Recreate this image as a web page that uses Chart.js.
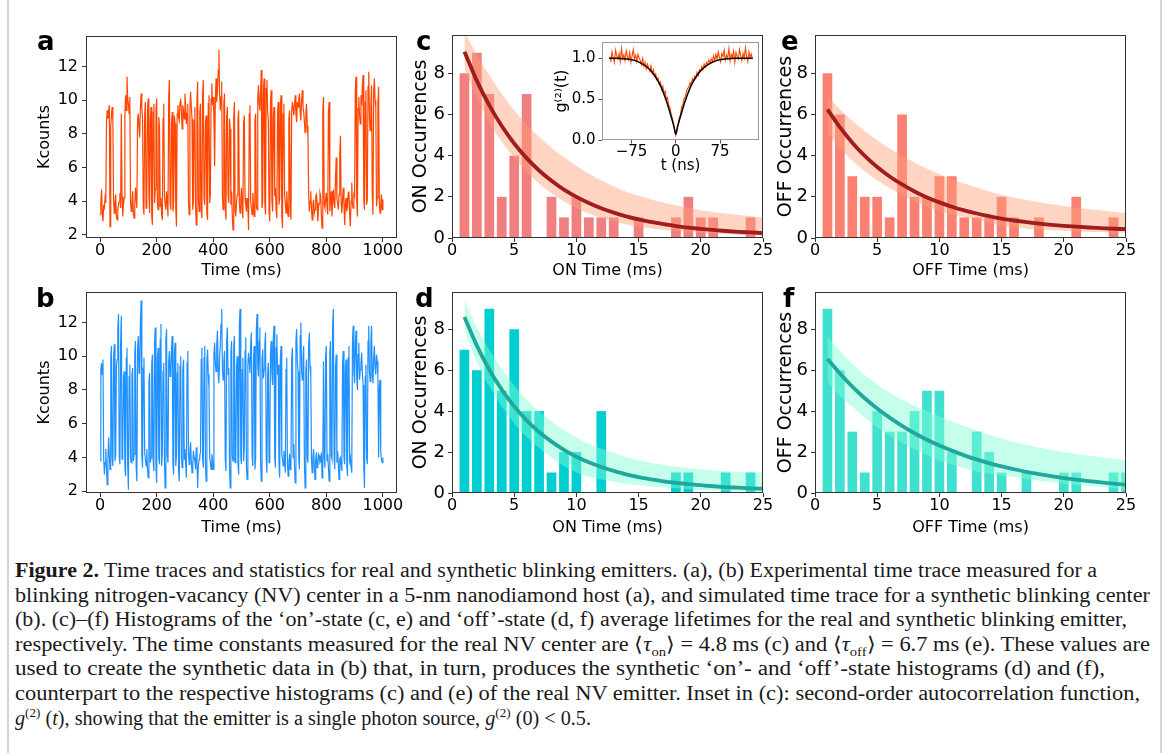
<!DOCTYPE html>
<html><head><meta charset="utf-8">
<script src="https://cdn.jsdelivr.net/npm/chart.js@4.4.1/dist/chart.umd.min.js"></script>
<style>
html,body{margin:0;padding:0;background:#fff;}
#page{position:relative;width:1165px;height:753px;overflow:hidden;background:#fff;}
canvas{position:absolute;}
.lbl{position:absolute;font-family:'DejaVu Sans';font-weight:bold;font-size:26px;line-height:26px;color:#000;}
.cap{position:absolute;left:15px;font-family:'Liberation Serif';font-size:20px;line-height:24px;color:#1a1a1a;white-space:nowrap;transform-origin:0 50%;}
.cap sub,.cap sup{font-size:13px;line-height:0;}
.frame{position:absolute;top:0;height:753px;width:2px;background:#d4d4d4;}
</style></head><body>
<div id="page">
<div class="frame" style="left:7px"></div>
<div class="frame" style="left:1160px"></div>
<canvas id="ca"></canvas><canvas id="cb"></canvas>
<canvas id="cc"></canvas><canvas id="cd"></canvas>
<canvas id="ce"></canvas><canvas id="cf"></canvas>
<canvas id="cin"></canvas>
<div class="lbl" style="left:37px;top:28px">a</div>
<div class="lbl" style="left:36px;top:285px">b</div>
<div class="lbl" style="left:416px;top:28px">c</div>
<div class="lbl" style="left:415px;top:285px">d</div>
<div class="lbl" style="left:781px;top:28px">e</div>
<div class="lbl" style="left:783px;top:285px">f</div>
<div class="cap" id="l1" style="top:558px"><b>Figure 2.</b> Time traces and statistics for real and synthetic blinking emitters. (a), (b) Experimental time trace measured for a</div>
<div class="cap" id="l2" style="top:582.6px">blinking nitrogen-vacancy (NV) center in a 5-nm nanodiamond host (a), and simulated time trace for a synthetic blinking center</div>
<div class="cap" id="l3" style="top:607.2px">(b). (c)–(f) Histograms of the ‘on’-state (c, e) and ‘off’-state (d, f) average lifetimes for the real and synthetic blinking emitter,</div>
<div class="cap" id="l4" style="top:631.8px">respectively. The time constants measured for the real NV center are ⟨<i>τ</i><sub>on</sub>⟩ = 4.8 ms (c) and ⟨<i>τ</i><sub>off</sub>⟩ = 6.7 ms (e). These values are</div>
<div class="cap" id="l5" style="top:656.4px">used to create the synthetic data in (b) that, in turn, produces the synthetic ‘on’- and ‘off’-state histograms (d) and (f),</div>
<div class="cap" id="l6" style="top:681px">counterpart to the respective histograms (c) and (e) of the real NV emitter. Inset in (c): second-order autocorrelation function,</div>
<div class="cap" id="l7" style="top:705.6px"><i>g</i><sup>(2)</sup> (<i>t</i>), showing that the emitter is a single photon source, <i>g</i><sup>(2)</sup> (0) &lt; 0.5.</div>
</div>
<script>
// ---------------- DATA ----------------
const traceSpanMs = 1000; // samples evenly spaced over 0..1000 ms
const traceA = [3.2,3.9,4.7,3.4,2.8,3.7,3.6,4.2,3.9,8.7,9.4,8.9,9.3,9.7,2.5,8.4,9.1,9.6,8.8,4.1,3.3,3.9,4.4,3.1,2.9,3.5,3.8,4.0,4.5,3.6,9.2,4.3,3.1,3.8,4.2,9.0,10.3,9.4,11.4,10.1,9.8,9.2,10.2,4.0,3.4,3.9,4.6,3.3,3.0,3.8,4.8,4.1,3.6,8.9,9.2,8.4,7.8,9.6,10.4,9.5,8.9,3.7,3.2,9.1,9.9,3.6,4.1,9.4,10.1,4.4,3.3,8.8,9.6,3.1,2.6,9.3,9.8,3.9,4.7,9.5,10.1,4.0,3.5,9.0,8.4,3.7,4.2,3.2,2.9,8.9,9.8,4.3,3.8,3.5,4.6,4.0,3.1,10.2,11.2,3.9,3.5,8.7,9.3,3.4,4.0,9.1,8.6,3.6,2.5,9.2,9.7,9.0,8.8,9.9,10.1,9.3,8.3,9.7,9.4,8.9,10.4,9.6,8.6,9.2,9.8,4.0,3.2,9.4,10.5,9.6,8.9,3.5,4.0,8.8,9.6,3.8,2.6,10.0,11.1,4.1,3.4,9.3,9.8,3.5,3.0,10.4,11.2,4.2,3.8,8.6,9.1,3.3,2.9,9.8,10.3,3.9,4.5,10.1,11.0,9.7,10.2,8.9,6.1,10.0,11.3,9.9,10.6,11.8,13.0,10.4,9.4,10.2,11.1,4.3,3.5,9.8,10.4,3.6,2.9,9.0,9.6,4.4,3.9,8.9,8.3,3.8,4.6,3.1,2.3,8.9,9.9,3.5,3.1,4.0,4.4,8.8,9.4,3.9,3.3,4.1,4.8,3.6,3.0,8.6,9.1,4.2,3.8,3.4,4.2,3.7,2.3,9.2,9.7,4.0,3.6,3.2,4.5,3.9,3.1,8.8,9.2,3.7,3.5,10.1,10.9,9.8,9.4,10.6,11.8,3.6,4.0,10.5,11.3,3.9,3.2,10.7,11.2,9.3,8.8,3.4,2.8,9.9,10.6,4.1,3.4,9.0,9.6,4.3,4.8,3.5,3.0,9.3,9.9,3.8,4.2,9.7,10.3,3.1,2.4,9.2,9.8,4.4,3.9,3.3,4.6,3.8,3.1,8.9,9.4,3.6,2.9,9.3,9.9,9.5,9.1,9.8,10.3,9.2,8.7,9.9,9.6,10.1,10.4,9.3,8.8,10.0,10.6,9.6,9.3,8.7,8.1,9.2,9.8,8.5,7.9,4.4,3.4,4.0,4.6,3.5,2.9,3.8,4.1,3.3,3.5,4.3,4.4,3.9,2.8,3.6,3.9,4.5,4.3,3.2,2.4,9.4,10.2,3.8,3.6,4.1,4.5,3.7,3.2,9.3,9.9,3.4,4.0,4.6,3.1,3.9,4.7,4.0,3.6,5.4,6.6,4.1,3.9,3.5,4.4,6.8,7.9,3.9,3.3,4.2,4.8,3.7,2.6,3.9,4.2,3.4,3.7,4.5,4.6,3.2,2.5,4.0,5.1,3.8,3.6,4.4,4.3,10.5,11.4,4.0,3.1,9.5,10.2,9.1,8.6,10.3,9.7,10.8,11.5,4.1,3.5,9.9,10.6,3.8,4.1,10.8,11.7,9.0,8.2,9.6,10.9,4.4,3.2,10.6,11.3,10.0,9.6,3.7,4.2,9.8,10.8,3.9,3.3,3.8,4.4,3.5,4.1];
const traceB = [3.8,9.2,9.6,8.9,9.8,4.0,3.0,3.7,4.5,3.4,2.4,3.9,5.2,4.1,3.3,9.8,10.6,4.0,3.5,9.9,10.7,3.8,4.1,9.4,9.8,11.6,12.5,4.0,3.6,10.8,12.4,3.9,4.4,8.7,9.1,3.5,2.9,9.9,10.5,3.6,2.1,8.8,9.5,4.0,3.7,8.9,9.3,3.8,4.2,10.2,10.9,3.4,2.6,10.5,11.2,9.0,9.5,12.1,13.3,4.1,3.4,9.3,9.9,4.3,3.9,3.5,4.5,3.3,2.8,8.5,9.0,3.7,4.0,9.5,10.1,3.9,3.2,10.8,11.7,3.4,2.5,9.8,10.5,4.0,3.6,11.0,11.9,3.5,4.3,9.1,9.6,3.8,2.2,10.9,11.6,4.2,3.7,9.7,10.3,8.8,9.2,10.5,11.2,3.6,3.0,10.1,10.8,3.5,4.1,9.0,9.6,3.2,2.6,9.4,10.0,4.0,3.4,9.2,9.8,3.9,4.5,3.6,2.8,9.6,10.3,4.2,3.6,4.3,4.9,3.8,3.1,3.6,4.4,4.0,3.8,3.3,4.6,3.9,2.2,3.5,3.9,4.1,4.3,9.8,10.5,4.0,3.4,9.9,10.6,3.6,2.6,9.7,10.4,8.9,8.1,4.0,3.7,3.3,4.2,3.8,3.3,10.1,10.8,9.6,9.1,10.7,11.5,9.0,8.4,9.9,10.7,11.9,12.8,9.3,8.6,9.7,10.3,3.9,3.2,10.9,11.7,8.9,9.3,3.6,2.2,10.2,10.9,4.1,3.8,10.5,11.2,3.7,4.4,9.4,10.0,3.6,3.0,11.9,12.8,4.0,3.6,9.2,9.9,3.8,4.6,10.3,11.1,3.4,2.7,9.5,10.2,9.6,9.0,10.7,11.4,4.1,3.5,9.9,10.6,3.3,4.0,11.6,12.5,9.4,8.8,10.9,11.7,3.8,2.6,9.8,10.4,8.7,9.2,10.6,11.4,3.9,3.1,9.0,9.6,3.7,4.7,10.1,10.9,9.0,8.3,11.0,11.8,4.0,3.4,10.5,11.3,8.9,9.5,3.6,2.8,9.9,10.6,4.2,3.9,3.5,4.4,3.8,3.1,9.2,9.9,3.6,2.9,3.7,4.2,3.3,3.6,9.8,10.5,4.0,4.8,3.4,2.5,10.9,11.6,9.7,9.1,3.9,3.3,11.2,12.0,9.2,8.6,9.9,10.6,3.7,2.2,9.1,9.8,4.0,3.7,10.6,11.4,9.4,8.8,3.9,3.1,4.0,4.5,3.6,2.7,3.9,4.3,3.4,3.5,4.2,4.1,3.7,3.8,4.3,2.8,3.5,9.7,4.0,3.4,9.9,10.6,3.8,4.2,3.4,2.6,10.2,10.9,4.1,3.9,11.9,12.8,4.0,3.3,9.4,10.1,3.7,4.4,3.6,2.7,3.9,4.0,3.5,3.2,9.6,10.3,4.0,3.6,9.1,9.8,3.5,2.9,9.9,10.6,3.8,4.0,3.4,3.1,10.9,11.8,9.0,8.4,10.7,11.5,8.7,8.0,10.1,10.8,8.6,9.2,9.6,10.2,9.0,8.3,3.5,2.2,8.8,9.5,4.0,3.6,10.9,11.8,9.1,8.5,10.8,11.8,8.9,8.4,9.9,10.6,9.3,8.9,10.1,9.7,8.8,4.0,8.2,8.6,4.3,3.9,3.7,4.0];
const traceXTicks = [0,200,400,600,800,1000];
const traceYTicks = [2,4,6,8,10,12];

const histX = [1,2,3,4,5,6,7,8,9,10,11,12,13,14,15,16,17,18,19,20,21,22,23,24,25];
const onCountsReal  = [8,9,7,2,4,7,0,2,1,2,1,1,1,0,1,0,0,1,2,1,1,0,0,1,0];   // c
const onCountsSynth = [7,6,9,5,8,4,4,1,2,2,0,4,0,0,0,0,0,1,1,0,0,1,0,1,0];   // d
const offCountsReal = [8,6,3,2,2,1,6,2,2,3,3,1,1,1,2,1,0,1,0,0,2,0,0,1,0];   // e
const offCountsSynth= [9,6,3,1,4,3,3,4,5,5,2,0,3,2,1,0,1,0,0,1,1,0,0,1,1];   // f
const fitOnReal   = [9.05,7.63,6.44,5.44,4.59,3.88,3.28,2.78,2.35,2.00,1.70,1.44,1.23,1.05,0.90,0.78,0.67,0.58,0.50,0.44,0.39,0.34,0.30,0.27,0.24];
const fitOnSynth  = [8.60,7.20,6.02,5.05,4.23,3.55,2.98,2.51,2.11,1.77,1.50,1.27,1.08,0.91,0.78,0.67,0.57,0.50,0.43,0.38,0.33,0.29,0.26,0.23,0.21];
const fitOffReal  = [6.25,5.38,4.63,3.99,3.45,2.99,2.60,2.26,1.97,1.73,1.52,1.34,1.19,1.06,0.94,0.85,0.77,0.70,0.64,0.59,0.55,0.51,0.48,0.45,0.43];
const fitOffSynth = [6.55,5.84,5.20,4.63,4.13,3.68,3.28,2.92,2.60,2.32,2.07,1.84,1.64,1.46,1.30,1.16,1.03,0.92,0.82,0.73,0.65,0.58,0.52,0.46,0.41];
const bandX = [1,2,3,5,7,10,13,15,20,25];
const bandOnRealHi   = [10.0,8.9,7.9,6.2,4.9,3.5,2.5,2.05,1.35,1.0];
const bandOnRealLo   = [8.2,6.8,5.6,3.9,2.65,1.45,0.8,0.55,0.25,0.1];
const bandOnSynthHi  = [9.4,8.1,7.0,5.25,4.0,2.7,1.95,1.6,1.15,1.0];
const bandOnSynthLo  = [7.9,6.4,5.2,3.4,2.2,1.0,0.55,0.38,0.15,0.05];
const bandOffRealHi  = [6.9,6.25,5.7,4.75,4.0,3.1,2.45,2.1,1.55,1.2];
const bandOffRealLo  = [5.1,4.35,3.75,2.8,2.1,1.3,0.9,0.6,0.35,0.25];
const bandOffSynthHi = [7.65,6.95,6.3,5.3,4.55,3.75,3.05,2.65,2.0,1.6];
const bandOffSynthLo = [5.45,4.75,4.2,3.2,2.45,1.6,1.05,0.85,0.45,0.2];
const histXTicks = [0,5,10,15,20,25];
const histYTicks = [0,2,4,6,8];

const g2Start = -112, g2Step = 2;
const g2Data = [1.02,0.97,1.08,1.01,0.95,1.10,1.03,0.99,1.06,0.96,1.12,1.00,1.04,0.97,1.09,1.02,0.98,1.07,0.95,1.03,1.11,0.99,1.04,0.96,1.05,1.00,
 0.97,0.92,1.00,0.90,0.95,0.87,0.93,0.88,0.84,0.91,0.82,0.86,0.78,0.81,0.74,
 0.76,0.68,0.71,0.62,0.66,0.57,0.60,0.50,0.52,0.43,0.40,0.32,0.27,0.21,0.13,
 0.06,
 0.14,0.20,0.28,0.31,0.41,0.42,0.51,0.53,0.59,0.63,0.65,0.70,0.67,0.75,0.72,
 0.78,0.76,0.83,0.79,0.86,0.84,0.90,0.86,0.93,0.89,0.95,0.92,0.98,0.94,0.99,
 0.96,1.03,0.97,1.05,0.99,1.08,1.01,0.96,1.06,1.02,1.10,0.98,1.04,1.00,1.12,0.97,1.05,1.01,1.09,0.95,1.07,1.02,0.99,1.11,1.03,0.97,1.06,1.00,1.13,1.02,0.96,1.08,1.01,1.05,0.99];
const g2FitT = [-113,-100,-90,-80,-70,-60,-50,-40,-30,-25,-20,-15,-10,-6,-3,0,3,6,10,15,20,25,30,40,50,60,70,80,90,100,113,130];
const g2FitV = [1.0,1.0,0.995,0.99,0.975,0.945,0.9,0.83,0.72,0.65,0.56,0.46,0.34,0.24,0.16,0.07,0.16,0.24,0.34,0.46,0.56,0.65,0.72,0.83,0.9,0.945,0.975,0.99,0.995,1.0,1.0,1.0];
const insetXTicks = [-75,0,75], insetXLabels = ['\u221275','0','75'];
const insetYTicks = [0,0.5,1.0], insetYLabels = ['0.0','0.5','1.0'];

// ---------------- HELPERS ----------------
const FONT = 'DejaVu Sans';
const AX = '#333';
const pts = (xs, ys) => ys.map((y, i) => ({x: xs[i], y}));

function boxPlugin(color, bg) {
  return {
    id: 'box',
    beforeDraw(c) {
      if (!bg) return;
      const a = c.chartArea, ctx = c.ctx;
      ctx.save(); ctx.fillStyle = bg; ctx.fillRect(a.left, a.top, a.right - a.left, a.bottom - a.top); ctx.restore();
    },
    afterDraw(c) {
      const a = c.chartArea, ctx = c.ctx;
      ctx.save(); ctx.strokeStyle = color; ctx.lineWidth = 1;
      ctx.strokeRect(Math.round(a.left) + 0.5, Math.round(a.top) + 0.5, Math.round(a.right - a.left) - 1, Math.round(a.bottom - a.top) - 1);
      ctx.restore();
    }
  };
}

function axis(dir, o) {
  const sc = {
    type: 'linear', min: o.min, max: o.max, offset: false,
    afterBuildTicks: s => { s.ticks = o.ticks.map(v => ({value: v})); },
    ticks: {autoSkip: false, maxRotation: 0, font: {family: FONT, size: o.tf}, color: '#000', padding: o.tp,
            callback: (v, i) => (o.labels ? o.labels[i] : String(o.ticks[i]))},
    grid: {display: true, drawOnChartArea: false, drawTicks: true, tickLength: o.tl, tickWidth: 1, color: o.axc || AX, offset: false},
    border: {display: false},
    title: {display: true, text: o.title, font: {family: FONT, size: o.ttf}, color: '#000',
            padding: dir === 'x' ? {top: 0, bottom: o.ttp} : {top: o.ttp, bottom: 0}}
  };
  if (dir === 'x') sc.afterFit = s => { s.height = o.size; };
  else sc.afterFit = s => { s.width = o.size; };
  return sc;
}

function makeChart(id, rect, m, type, datasets, xs, ys, boxColor, bg) {
  const cv = document.getElementById(id);
  const left = rect.L - m.yw, top = rect.T - m.padT;
  const w = Math.round(rect.R + m.padR - left), h = Math.round(rect.B + m.xh - top);
  cv.style.left = left + 'px'; cv.style.top = top + 'px';
  cv.width = w; cv.height = h; cv.style.width = w + 'px'; cv.style.height = h + 'px';
  return new Chart(cv, {
    type, data: {datasets},
    options: {
      responsive: false, animation: false, events: [], devicePixelRatio: 1,
      layout: {padding: {top: m.padT, right: m.padR, left: 0, bottom: 0}},
      plugins: {legend: {display: false}, tooltip: {enabled: false}},
      scales: {x: xs, y: ys}
    },
    plugins: [boxPlugin(boxColor, bg)]
  });
}

// ---------------- TRACES (a, b) ----------------
function tracePanel(id, rect, values, color, ymin, ymax) {
  const m = {yw: 62, padT: 14, padR: 26, xh: 46};
  const times = values.map((_, i) => i * traceSpanMs / (values.length - 1));
  makeChart(id, rect, m, 'line',
    [{data: pts(times, values), borderColor: color, borderWidth: 1.2, pointRadius: 0, tension: 0, fill: false}],
    axis('x', {min: -50, max: 1050, ticks: traceXTicks, tf: 16, tp: -1, tl: 4, title: 'Time (ms)', ttf: 16, ttp: rect.B > 300 ? 1.4 : 3.4, size: m.xh}),
    axis('y', {min: ymin, max: ymax, ticks: traceYTicks, tf: 16, tp: 4, tl: 4, title: 'Kcounts', ttf: 16, ttp: 11.4, size: m.yw}),
    AX, null);
}
tracePanel('ca', {L: 86, T: 36, R: 397, B: 238}, traceA, '#ff4500', 1.82, 13.82);
tracePanel('cb', {L: 86, T: 292, R: 397, B: 493}, traceB, '#1e90ff', 1.9, 13.8);

// ---------------- HISTOGRAMS (c, d, e, f) ----------------
function histPanel(id, rect, counts, fit, lo, hi, barColor, bandColor, lineColor, xTitle, yTitle, ymax, yTitlePad) {
  const m = {yw: 44, padT: 14, padR: 16, xh: 46};
  makeChart(id, rect, m, 'bar', [
    {type: 'bar', data: pts(histX, counts), backgroundColor: barColor, borderWidth: 0, barPercentage: 0.78, categoryPercentage: 1, order: 3},
    {type: 'line', data: pts(bandX, lo), borderWidth: 0, borderColor: 'rgba(0,0,0,0)', pointRadius: 0, cubicInterpolationMode: 'monotone', fill: false, order: 2},
    {type: 'line', data: pts(bandX, hi), borderWidth: 0, borderColor: 'rgba(0,0,0,0)', pointRadius: 0, cubicInterpolationMode: 'monotone', fill: '-1', backgroundColor: bandColor, order: 2},
    {type: 'line', data: pts(histX, fit), borderColor: lineColor, borderWidth: 3.8, pointRadius: 0, cubicInterpolationMode: 'monotone', fill: false, order: 1, borderCapStyle: 'butt'}
  ],
    axis('x', {min: 0, max: 25, ticks: histXTicks, tf: 16, tp: -1, tl: 4, title: xTitle, ttf: 16, ttp: rect.B > 300 ? 1.4 : 3.4, size: m.xh}),
    axis('y', {min: 0, max: ymax, ticks: histYTicks, tf: 18, tp: 3, tl: 4, title: yTitle, ttf: 19, ttp: yTitlePad, size: m.yw}),
    AX, null);
}
const salmonBand = 'rgba(255,160,122,0.45)', aquaBand = 'rgba(127,255,212,0.45)';
histPanel('cc', {L: 451.7, T: 35, R: 762.3, B: 238.3}, onCountsReal, fitOnReal, bandOnRealLo, bandOnRealHi, '#f08080', salmonBand, '#a11c1c', 'ON Time (ms)', 'ON Occurrences', 9.86, 1.9);
histPanel('cd', {L: 451.7, T: 292, R: 762.3, B: 493}, onCountsSynth, fitOnSynth, bandOnSynthLo, bandOnSynthHi, '#00ced1', aquaBand, '#1fa89c', 'ON Time (ms)', 'ON Occurrences', 9.82, 1.9);
histPanel('ce', {L: 815, T: 35, R: 1126, B: 238.3}, offCountsReal, fitOffReal, bandOffRealLo, bandOffRealHi, '#fa8072', salmonBand, '#a11c1c', 'OFF Time (ms)', 'OFF Occurrences', 9.86, 3.6);
histPanel('cf', {L: 815, T: 292, R: 1126, B: 493}, offCountsSynth, fitOffSynth, bandOffSynthLo, bandOffSynthHi, '#40e0d0', aquaBand, '#1fa89c', 'OFF Time (ms)', 'OFF Occurrences', 9.82, 3.6);

// ---------------- INSET (g2) ----------------
const g2T = g2Data.map((_, i) => g2Start + i * g2Step);
makeChart('cin', {L: 601.7, T: 40, R: 758.3, B: 140}, {yw: 54, padT: 10, padR: 14, xh: 35}, 'line', [
    {data: pts(g2FitT, g2FitV), borderColor: '#000', borderWidth: 1.5, pointRadius: 0, cubicInterpolationMode: 'monotone', fill: false, order: 1},
    {data: pts(g2T, g2Data), borderColor: '#ff4500', borderWidth: 1.1, pointRadius: 0, tension: 0, fill: false, order: 2}
  ],
  axis('x', {min: -125, max: 141, ticks: insetXTicks, labels: insetXLabels, tf: 15, tp: 0, tl: 3.5, title: 't (ns)', ttf: 15, ttp: 0, size: 35, axc: '#555'}),
  axis('y', {min: 0, max: 1.2, ticks: insetYTicks, labels: insetYLabels, tf: 15, tp: 3, tl: 3.5, title: 'g\u207D\u00B2\u207E(t)', ttf: 16, ttp: 4.5, size: 54, axc: '#555'}),
  '#999', '#fff');

// ---------------- CAPTION line widths ----------------
const capRightEdges = [1097, 1150, 1127, 1150, 1105, 1140, 591];
function fitCaption() {
  capRightEdges.forEach((edge, i) => {
    const e = document.getElementById('l' + (i + 1));
    e.style.transform = 'none';
    const w = e.getBoundingClientRect().width;
    e.style.transform = 'scaleX(' + ((edge - 15) / w) + ')';
  });
}
fitCaption();
if (document.fonts && document.fonts.ready) document.fonts.ready.then(fitCaption);
</script>
</body></html>
